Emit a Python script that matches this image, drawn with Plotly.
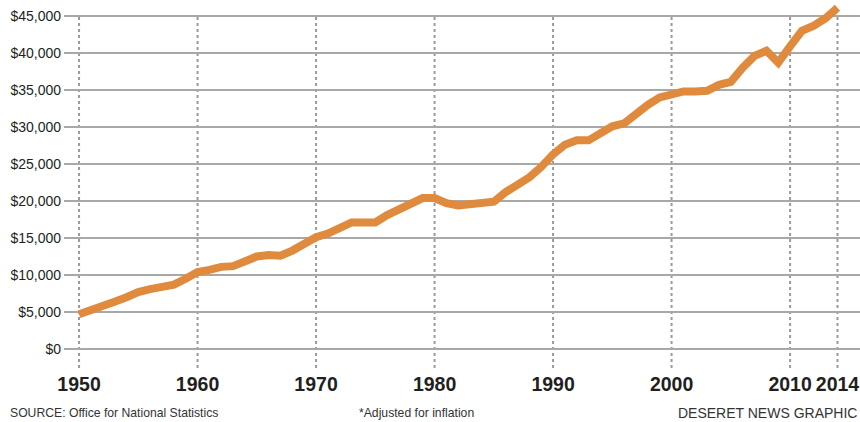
import plotly.graph_objects as go

years = list(range(1950, 2015))
income = [4700, 5200, 5800, 6400, 7000, 7700, 8100, 8500, 8700, 9500,
          10400, 10700, 11100, 11200, 12000, 12500, 12700, 12600, 13300, 14200,
          15100, 15600, 16300, 17100, 17100, 17100, 18100, 18800, 19600, 20400,
          20400, 19700, 19400, 19500, 19700, 19900, 21200, 22100, 23200, 24600,
          26300, 27600, 28200, 28200, 29300, 30100, 30500, 31800, 33000, 34000,
          34500, 34800, 34800, 34900, 35700, 36100, 38000, 39600, 40300, 38700,
          40900, 43000, 43700, 44700, 46100]

x_ticks = [1950, 1960, 1970, 1980, 1990, 2000, 2010, 2014]
y_ticks = list(range(0, 45001, 5000))
y_labels = ["$" + f"{v:,}" for v in y_ticks]

FONT = "Liberation Sans, Arial, sans-serif"

W, H = 860, 422
ML, MR, MT, MB = 64, 0, 0, 54
XR = [1948.73, 2015.9]
YR = [-2565, 47160]

fig = go.Figure()
fig.add_trace(go.Scatter(
    x=years, y=income, mode="lines",
    line=dict(color="#df8a3c", width=8, shape="linear"),
    hoverinfo="skip", cliponaxis=False,
))

for xv in x_ticks:
    fig.add_shape(type="line", xref="x", yref="y", x0=xv, x1=xv,
                  y0=YR[0], y1=y_ticks[-1],
                  line=dict(color="#9a9a9a", width=2, dash="dot"), layer="below")

def px_x(p):
    return (p - ML) / (W - ML - MR)

def px_y(p):
    return (H - MB - p) / (H - MT - MB)

notes = [
    ("SOURCE: Office for National Statistics", 8, "left", 12.2),
    ("*Adjusted for inflation", 357, "left", 12.2),
    ("DESERET NEWS GRAPHIC", 859, "right", 14),
]
for txt, xp, anc, sz in notes:
    fig.add_annotation(text=txt, x=px_x(xp), y=px_y(412.5), xref="paper", yref="paper",
                       xanchor=anc, yanchor="middle", showarrow=False,
                       font=dict(family=FONT, size=sz, color="#333333"))

fig.update_layout(
    width=W, height=H, margin=dict(l=ML, r=MR, t=MT, b=MB),
    paper_bgcolor="white", plot_bgcolor="white", showlegend=False,
    xaxis=dict(range=XR, tickvals=x_ticks, ticktext=[str(v) for v in x_ticks],
               showgrid=False, zeroline=False, showline=False, ticks="",
               automargin=False,
               tickfont=dict(family=FONT, size=19.5, color="#231f20", weight="bold"),
               ticklabelstandoff=2),
    yaxis=dict(range=YR, tickvals=y_ticks, ticktext=y_labels,
               showgrid=True, gridcolor="#a8a8a8", gridwidth=1.5,
               zeroline=False, showline=False, ticks="", automargin=False,
               tickfont=dict(family=FONT, size=14, color="#231f20"),
               ticklabelstandoff=2),
)

fig.write_html("out.html", config={"displayModeBar": False},
               post_script="document.body.style.margin='0';")
